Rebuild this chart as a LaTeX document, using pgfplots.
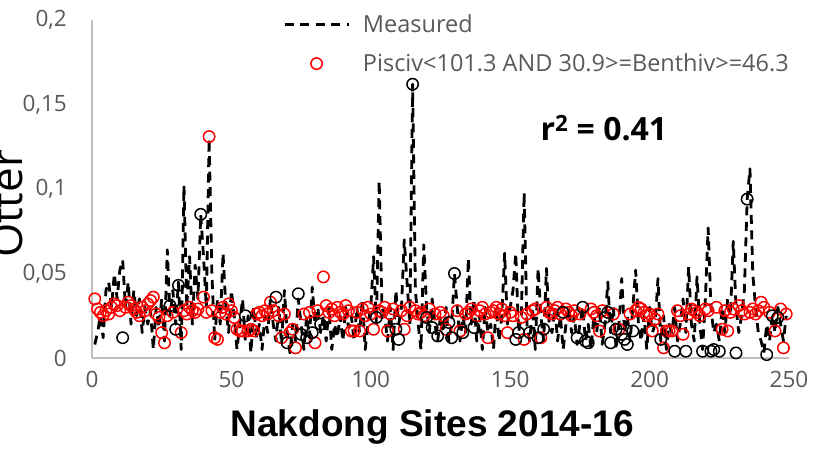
\documentclass[border=0pt]{standalone}
\usepackage{pgfplots}
\pgfplotsset{compat=1.18}
\usepackage{pgfplotstable}
\usepackage{fontspec}
\setmainfont{Open Sans}
\newfontfamily\arialfont{Liberation Sans}
\definecolor{tickgray}{HTML}{595959}
\definecolor{axgray}{HTML}{BFBFBF}

\pgfplotstableread{
x y
1 0.008
2 0.015
3 0.025
4 0.012
5 0.040
6 0.045
7 0.030
8 0.050
9 0.035
10 0.052
11 0.058
12 0.030
13 0.045
14 0.020
15 0.040
16 0.025
17 0.035
18 0.015
19 0.030
20 0.020
21 0.028
22 0.005
23 0.030
24 0.018
25 0.035
26 0.010
27 0.064
28 0.025
29 0.040
30 0.020
31 0.045
32 0.005
33 0.102
34 0.030
35 0.060
36 0.020
37 0.055
38 0.035
39 0.085
40 0.060
41 0.030
42 0.130
43 0.050
44 0.010
45 0.035
46 0.020
47 0.062
48 0.030
49 0.015
50 0.040
51 0.025
52 0.005
53 0.020
54 0.035
55 0.010
56 0.025
57 0.003
58 0.030
59 0.012
60 0.020
61 0.005
62 0.025
63 0.015
64 0.035
65 0.020
66 0.010
67 0.030
68 0.008
69 0.040
70 0.015
71 0.003
72 0.020
73 0.010
74 0.035
75 0.020
76 0.005
77 0.025
78 0.012
79 0.042
80 0.020
81 0.030
82 0.015
83 0.025
84 0.010
85 0.030
86 0.005
87 0.020
88 0.012
89 0.025
90 0.010
91 0.030
92 0.018
93 0.025
94 0.010
95 0.030
96 0.015
97 0.035
98 0.005
99 0.020
100 0.030
101 0.060
102 0.020
103 0.105
104 0.030
105 0.025
106 0.010
107 0.030
108 0.005
109 0.040
110 0.020
111 0.030
112 0.070
113 0.045
114 0.020
115 0.162
116 0.040
117 0.020
118 0.005
119 0.067
120 0.030
121 0.015
122 0.035
123 0.020
124 0.010
125 0.025
126 0.015
127 0.030
128 0.010
129 0.020
130 0.050
131 0.030
132 0.010
133 0.025
134 0.015
135 0.059
136 0.020
137 0.035
138 0.010
139 0.025
140 0.005
141 0.030
142 0.015
143 0.020
144 0.005
145 0.030
146 0.010
147 0.025
148 0.062
149 0.020
150 0.030
151 0.040
152 0.062
153 0.015
154 0.025
155 0.098
156 0.020
157 0.010
158 0.030
159 0.005
160 0.053
161 0.025
162 0.010
163 0.053
164 0.020
165 0.015
166 0.030
167 0.010
168 0.025
169 0.005
170 0.020
171 0.030
172 0.015
173 0.025
174 0.008
175 0.020
176 0.030
177 0.010
178 0.020
179 0.005
180 0.025
181 0.015
182 0.030
183 0.008
184 0.020
185 0.045
186 0.015
187 0.030
188 0.005
189 0.020
190 0.047
191 0.015
192 0.025
193 0.010
194 0.030
195 0.052
196 0.020
197 0.010
198 0.025
199 0.005
200 0.030
201 0.015
202 0.020
203 0.047
204 0.010
205 0.025
206 0.005
207 0.020
208 0.015
209 0.030
210 0.010
211 0.020
212 0.035
213 0.015
214 0.054
215 0.020
216 0.010
217 0.048
218 0.020
219 0.005
220 0.035
221 0.077
222 0.030
223 0.015
224 0.020
225 0.010
226 0.030
227 0.015
228 0.035
229 0.025
230 0.069
231 0.030
232 0.015
233 0.025
234 0.040
235 0.094
236 0.112
237 0.050
238 0.030
239 0.015
240 0.010
241 0.003
242 0.020
243 0.010
244 0.025
245 0.015
246 0.030
247 0.020
248 0.010
249 0.025
}\measured

\pgfplotstableread{
x y
1 0.035
2 0.029
3 0.027
4 0.025
5 0.028
6 0.026
7 0.030
8 0.032
9 0.031
10 0.028
12 0.030
13 0.033
14 0.031
15 0.029
16 0.027
17 0.025
18 0.030
19 0.028
20 0.032
21 0.034
22 0.036
23 0.026
24 0.024
25 0.015
26 0.009
27 0.025
29 0.027
32 0.015
33 0.028
34 0.026
35 0.030
36 0.028
37 0.027
38 0.029
40 0.036
41 0.027
42 0.131
43 0.028
44 0.012
45 0.011
46 0.027
47 0.030
48 0.026
49 0.032
50 0.028
51 0.024
52 0.017
53 0.016
54 0.016
56 0.016
57 0.017
58 0.016
59 0.026
60 0.027
61 0.025
62 0.028
63 0.026
64 0.033
65 0.028
67 0.025
68 0.012
69 0.026
71 0.015
72 0.017
73 0.006
76 0.026
78 0.027
80 0.009
81 0.028
83 0.048
84 0.031
85 0.027
86 0.029
87 0.025
88 0.030
89 0.027
90 0.026
91 0.031
92 0.028
93 0.016
94 0.016
95 0.027
96 0.016
97 0.029
98 0.025
99 0.030
100 0.026
101 0.017
103 0.028
104 0.027
105 0.030
106 0.016
107 0.026
108 0.029
111 0.028
112 0.017
113 0.025
114 0.030
116 0.028
117 0.026
118 0.027
119 0.025
121 0.029
123 0.026
125 0.027
126 0.025
127 0.017
131 0.028
132 0.016
134 0.026
135 0.027
136 0.029
138 0.025
139 0.028
140 0.030
141 0.026
142 0.012
143 0.027
144 0.028
145 0.030
146 0.026
147 0.029
148 0.025
149 0.015
150 0.027
151 0.025
154 0.024
155 0.011
156 0.026
158 0.028
159 0.029
161 0.012
163 0.030
164 0.027
165 0.026
166 0.028
167 0.030
168 0.026
170 0.029
171 0.027
172 0.025
173 0.028
175 0.026
179 0.029
180 0.027
181 0.025
182 0.016
183 0.028
187 0.026
189 0.017
193 0.026
195 0.028
196 0.030
197 0.029
198 0.027
199 0.025
200 0.026
201 0.016
202 0.023
203 0.026
205 0.006
206 0.016
207 0.016
208 0.016
210 0.028
211 0.025
212 0.014
214 0.026
215 0.029
216 0.028
217 0.027
218 0.025
220 0.029
221 0.028
224 0.030
226 0.017
227 0.028
228 0.016
229 0.027
230 0.029
232 0.031
233 0.028
234 0.026
236 0.027
237 0.029
238 0.026
239 0.028
240 0.033
241 0.030
243 0.027
245 0.016
247 0.029
248 0.006
249 0.026
}\redpts

\pgfplotstableread{
x y
11 0.012
28 0.031
30 0.017
31 0.043
39 0.085
55 0.025
66 0.036
70 0.009
74 0.038
75 0.014
77 0.012
79 0.015
82 0.020
102 0.024
109 0.017
110 0.011
115 0.162
120 0.024
122 0.018
124 0.013
128 0.021
129 0.012
130 0.050
133 0.015
137 0.018
152 0.011
153 0.015
157 0.015
160 0.012
162 0.017
169 0.027
174 0.012
176 0.030
177 0.010
178 0.009
184 0.024
185 0.027
186 0.009
188 0.017
190 0.014
191 0.011
192 0.008
194 0.016
204 0.011
209 0.004
213 0.004
219 0.004
222 0.004
223 0.005
225 0.004
231 0.003
235 0.094
242 0.002
244 0.025
246 0.024
}\blkpts

\pgfplotsset{
  dashleg/.style={legend image code/.code={\draw[##1] (0pt,0pt) -- (64pt,0pt);}},
  markleg/.style={legend image code/.code={\path[draw=none,fill=none] (0pt,0pt) -- (64pt,0pt); \draw[##1] plot coordinates {(32pt,0pt)};}},
}

\begin{document}
\begin{tikzpicture}
\begin{axis}[
  name=ax,
  scale only axis,
  width=697pt, height=338pt,
  xmin=0, xmax=250, ymin=0, ymax=0.2,
  clip=false,
  axis x line*=bottom, axis y line*=left,
  axis line style={draw=axgray, line width=1.3pt},
  xtick={0,50,100,150,200,250},
  ytick={0,0.05,0.1,0.15,0.2},
  major tick length=0pt,
  scaled y ticks=false,
  tick label style={font=\fontsize{22.5}{26}\selectfont, text=tickgray},
  yticklabel style={/pgf/number format/.cd, fixed, use comma, precision=2, assume math mode=true, /tikz/.cd, inner sep=0pt, xshift=-25pt},
  xticklabel style={/pgf/number format/assume math mode=true, inner sep=0pt, yshift=-13pt},
  xlabel={Nakdong Sites 2014-16},
  xlabel style={font=\arialfont\bfseries\fontsize{37}{40}\selectfont, at={(axis description cs:0.488,-0.231)}, anchor=base, inner sep=0pt},
  ylabel={Otter},
  ylabel style={font=\fontsize{44}{48}\selectfont, at={(axis description cs:-0.1004,0.456)}, anchor=base, inner sep=0pt},
  legend style={draw=none, fill=none, at={(axis description cs:0.274,1.0166)}, anchor=north west,
    inner sep=0pt, row sep=20pt, column sep=13pt,
    font=\fontsize{23.5}{26}\selectfont, text=tickgray,
    nodes={inner sep=0pt}, cells={anchor=west}},
]
\addplot[black, line width=2.8pt, dash pattern=on 9pt off 6.5pt, line join=round, dashleg] table {\measured};
\addplot[only marks, red, mark=o, mark size=5.7pt, mark options={line width=1.5pt, solid}, markleg] table {\redpts};
\addplot[only marks, black, mark=o, mark size=5.7pt, mark options={line width=1.5pt, solid}, forget plot] table {\blkpts};
\legend{Measured, Pisciv<101.3 AND 30.9>=Benthiv>=46.3}
\node[font=\bfseries\fontsize{32}{36}\selectfont, text=black, anchor=center] at (axis cs:183.6,0.136) {r\textsuperscript{2} = 0.41};
\end{axis}
\pgfresetboundingbox
\path[use as bounding box] ([xshift=-92pt,yshift=-96pt]ax.south west) rectangle ([xshift=30pt,yshift=20pt]ax.north east);
\end{tikzpicture}
\end{document}
